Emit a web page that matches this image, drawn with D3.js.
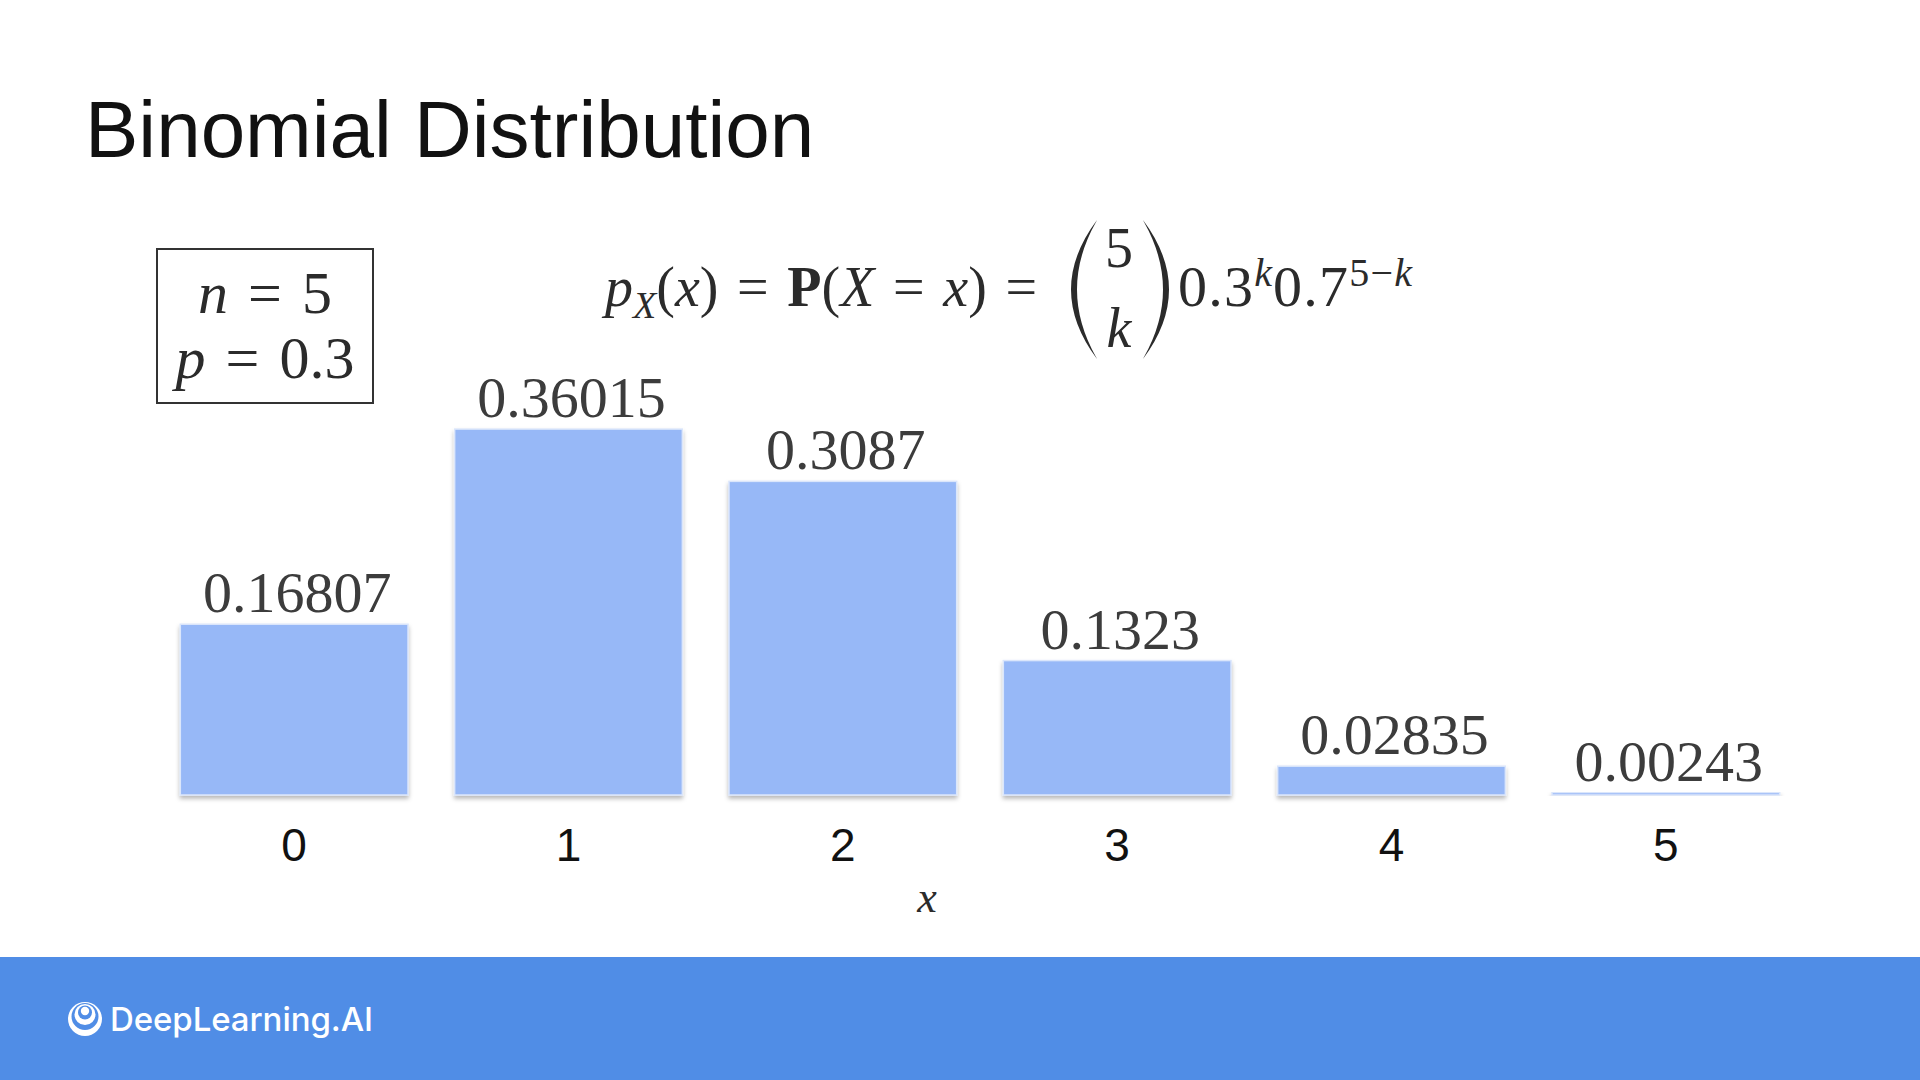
<!DOCTYPE html>
<html>
<head>
<meta charset="utf-8">
<script src="https://cdn.jsdelivr.net/npm/d3@7/dist/d3.min.js"></script>
<style>
  html, body { margin: 0; padding: 0; background: #fff; }
  svg { display: block; }
</style>
</head>
<body>
<div id="chart"></div>
<script>
// values
const ks = [0, 1, 2, 3, 4, 5];
const probs = [0.16807, 0.36015, 0.3087, 0.1323, 0.02835, 0.00243];
const probLabels = ["0.16807", "0.36015", "0.3087", "0.1323", "0.02835", "0.00243"];
const tickLabels = ["0", "1", "2", "3", "4", "5"];

const width = 1920;
const height = 1080;
const serif = "'Liberation Serif', 'Times New Roman', serif";
const sans = "'Liberation Sans', Arial, Helvetica, sans-serif";
const ink = "#2b2b2b";
const eq = "\u2004=\u2004"; // math-ish spacing around "="

const svg = d3.select("#chart")
    .append("svg")
    .attr("width", width)
    .attr("height", height);

// soft shadow under the bars
const defs = svg.append("defs");
defs.append("filter")
    .attr("id", "barShadow")
    .attr("x", "-5%").attr("y", "-5%")
    .attr("width", "110%").attr("height", "140%")
    .append("feDropShadow")
    .attr("dx", 0).attr("dy", 3)
    .attr("stdDeviation", 2)
    .attr("flood-color", "#000")
    .attr("flood-opacity", 0.28);

// Title
svg.append("text")
    .attr("x", 85)
    .attr("y", 157)
    .style("font-family", sans)
    .style("font-size", "80px")
    .style("fill", "#111")
    .text("Binomial Distribution");

// parameter box
svg.append("rect")
    .attr("x", 157).attr("y", 249)
    .attr("width", 216).attr("height", 154)
    .attr("fill", "none")
    .attr("stroke", "#333")
    .attr("stroke-width", 2);

const params = [["n", "5", 313], ["p", "0.3", 378]];
params.forEach(([v, val, y]) => {
    const t = svg.append("text")
        .attr("x", 265).attr("y", y)
        .attr("text-anchor", "middle")
        .style("font-family", serif)
        .style("font-size", "60px")
        .style("fill", ink);
    t.append("tspan").style("font-style", "italic").text(v);
    t.append("tspan").text(eq + val);
});

// formula
const fBase = 306;
const fSize = 56;
const f1 = svg.append("text")
    .attr("x", 605).attr("y", fBase)
    .style("font-family", serif)
    .style("font-size", fSize + "px")
    .style("fill", ink);
f1.append("tspan").style("font-style", "italic").text("p");
f1.append("tspan").style("font-style", "italic").style("font-size", "38px").attr("dy", 12).text("X");
f1.append("tspan").attr("dy", -12).text("(");
f1.append("tspan").style("font-style", "italic").text("x");
f1.append("tspan").text(")" + eq);
f1.append("tspan").style("font-weight", "bold").text("P");
f1.append("tspan").text("(");
f1.append("tspan").style("font-style", "italic").text("X");
f1.append("tspan").text(eq);
f1.append("tspan").style("font-style", "italic").text("x");
f1.append("tspan").text(")\u2004=");

// binomial coefficient, big parentheses
function paren(x0, y0, y1, w, flip) {
    const m = (y0 + y1) / 2;
    const s = flip ? -1 : 1;
    const xo = flip ? x0 : x0 + w;
    const cOut = xo - s * w * 2.0;
    const cIn = xo - s * w * 1.5;
    return `M${xo},${y0} Q${cOut},${m} ${xo},${y1} L${xo - s * 1},${y1 - 2} Q${cIn},${m} ${xo - s * 1},${y0 + 2} Z`;
}
svg.append("path").attr("d", paren(1071, 220, 359, 26, false)).attr("fill", ink);
svg.append("path").attr("d", paren(1143, 220, 359, 26, true)).attr("fill", ink);

svg.append("text")
    .attr("x", 1119).attr("y", 267)
    .attr("text-anchor", "middle")
    .style("font-family", serif).style("font-size", fSize + "px")
    .style("fill", ink)
    .text("5");
svg.append("text")
    .attr("x", 1119).attr("y", 347)
    .attr("text-anchor", "middle")
    .style("font-family", serif).style("font-size", fSize + "px")
    .style("font-style", "italic")
    .style("fill", ink)
    .text("k");

const f2 = svg.append("text")
    .attr("x", 1178).attr("y", fBase)
    .attr("textLength", 234)
    .attr("lengthAdjust", "spacing")
    .style("font-family", serif)
    .style("font-size", "58px")
    .style("fill", ink);
f2.append("tspan").text("0.3");
f2.append("tspan").style("font-style", "italic").style("font-size", "40px").attr("dy", -20).text("k");
f2.append("tspan").attr("dy", 20).text("0.7");
f2.append("tspan").style("font-size", "40px").attr("dy", -20).text("5\u2212");
f2.append("tspan").style("font-size", "40px").style("font-style", "italic").text("k");

// scales
const x = d3.scaleBand()
    .domain(ks)
    .range([157, 1803])
    .paddingInner(0.17)
    .paddingOuter(0.085);

const y = d3.scaleLinear()
    .domain([0, 0.4])
    .range([795, 388.6]);

// bars
svg.selectAll("rect.bar")
    .data(ks)
    .enter()
    .append("rect")
    .attr("class", "bar")
    .attr("x", d => x(d))
    .attr("y", (d, i) => y(probs[i]))
    .attr("width", x.bandwidth())
    .attr("height", (d, i) => y(0) - y(probs[i]))
    .attr("fill", "#97b8f7")
    .attr("stroke", "#dbe6fb")
    .attr("stroke-width", 1.5)
    .attr("filter", "url(#barShadow)");

// value labels
svg.selectAll("text.val")
    .data(ks)
    .enter()
    .append("text")
    .attr("class", "val")
    .attr("x", d => x(d) + x.bandwidth() / 2 + 3)
    .attr("y", (d, i) => y(probs[i]) - 12)
    .attr("text-anchor", "middle")
    .style("font-family", serif)
    .style("font-size", "58px")
    .style("fill", "#3c3c3c")
    .text((d, i) => probLabels[i]);

// x axis tick labels (no axis line in the slide)
const xAxis = d3.axisBottom(x)
    .tickSize(0)
    .tickPadding(0)
    .tickFormat((d, i) => tickLabels[i]);

const axisG = svg.append("g")
    .attr("transform", "translate(0,828)")
    .call(xAxis);
axisG.select(".domain").remove();
axisG.selectAll("text")
    .style("font-family", sans)
    .style("font-size", "46px")
    .style("fill", "#111");

// axis title
svg.append("text")
    .attr("x", 927).attr("y", 912)
    .attr("text-anchor", "middle")
    .style("font-family", serif)
    .style("font-size", "44px")
    .style("font-style", "italic")
    .style("fill", ink)
    .text("x");

// footer band
svg.append("rect")
    .attr("x", 0).attr("y", 957)
    .attr("width", width).attr("height", height - 957)
    .attr("fill", "#508de6");

// logo mark
const logo = svg.append("g");
[[17, 0, "#fff"], [13.5, -2.5, "#508de6"], [10.5, -4.5, "#fff"], [7, -6.5, "#508de6"], [4.2, -8, "#fff"]]
    .forEach(([r, dy, c]) => {
        logo.append("circle").attr("cx", 85).attr("cy", 1019 + dy).attr("r", r).attr("fill", c);
    });

svg.append("text")
    .attr("x", 110).attr("y", 1031)
    .attr("textLength", 263)
    .style("font-family", "Inter, 'Noto Sans', sans-serif")
    .style("font-size", "33px")
    .style("font-weight", 500)
    .style("fill", "#fff")
    .text("DeepLearning.AI");
</script>
</body>
</html>
